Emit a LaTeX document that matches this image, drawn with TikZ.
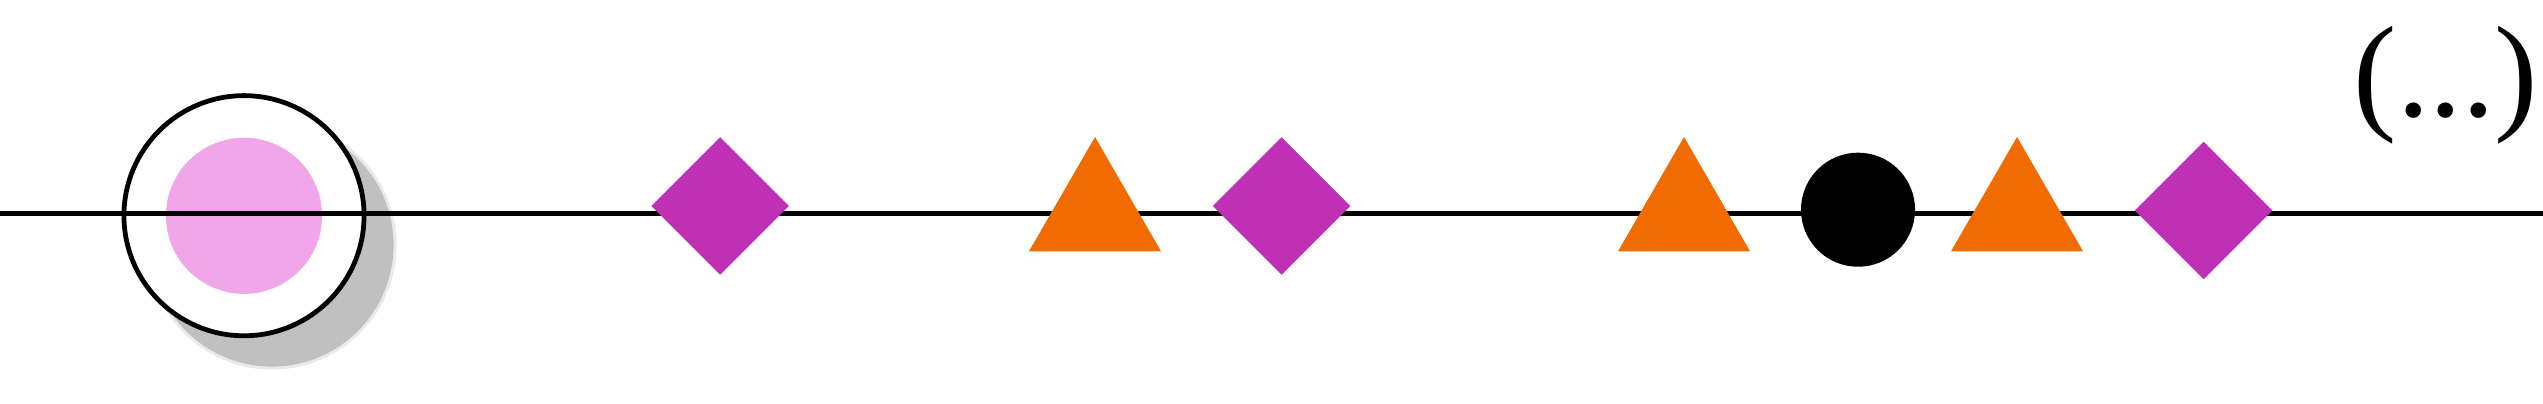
\documentclass[tikz,border=0pt]{standalone}
\usepackage{fontspec}
\newfontfamily\labelfont{Liberation Serif}
\usetikzlibrary{shapes.geometric}
\definecolor{ringpink}{RGB}{240,166,232}
\definecolor{markmagenta}{RGB}{191,48,181}
\definecolor{markorange}{RGB}{240,108,0}
\definecolor{shadowgray}{RGB}{192,192,192}
\tikzset{
  diamark/.style={diamond, fill=markmagenta, draw=none, inner sep=0pt, minimum width=1.38cm, minimum height=1.38cm},
  trimark/.style={regular polygon, regular polygon sides=3, fill=markorange, draw=none, inner sep=0pt, minimum size=1.524cm},
  dotmark/.style={circle, fill=black, draw=none, inner sep=0pt, minimum size=1.14cm},
  ringnode/.style={circle, fill=white, draw=black, line width=0.048cm, inner sep=0pt, minimum size=2.40cm},
  pinknode/.style={circle, fill=ringpink, draw=none, inner sep=0pt, minimum size=1.56cm},
  shadownode/.style={circle, fill=shadowgray, draw=none, inner sep=0pt},
  axisline/.style={line width=0.048cm, black}
}
\begin{document}
\begin{tikzpicture}[x=0.01cm, y=-0.01cm]
\useasboundingbox (0,0) rectangle (2543,403);
\coordinate (L) at (0,213.3);
\coordinate (R) at (2543,213.3);
\node[shadownode, opacity=0.35, minimum size=2.49cm] (shadowhalo) at (272,245) {};
\node[shadownode, minimum size=2.43cm] (shadow) at (272,245) {};
\node[ringnode] (ring) at (244,215.7) {};
\node[pinknode] (core) at (244,215.8) {};
\draw[axisline] (L) -- (R);
\node[diamark] (d1) at (720,206) {};
\node[trimark] (t1) at (1095,213.2) {};
\node[diamark] (d2) at (1281.5,206) {};
\node[trimark] (t2) at (1684,213.2) {};
\node[dotmark] (c1) at (1858,209.7) {};
\node[trimark] (t3) at (2017,213.2) {};
\node[diamark] (d3) at (2203.5,210.5) {};
\node[anchor=base, inner sep=0pt, font=\labelfont\fontsize{37pt}{42pt}\selectfont] (dots) at (2445.8,116) {(...)};
\end{tikzpicture}
\end{document}
